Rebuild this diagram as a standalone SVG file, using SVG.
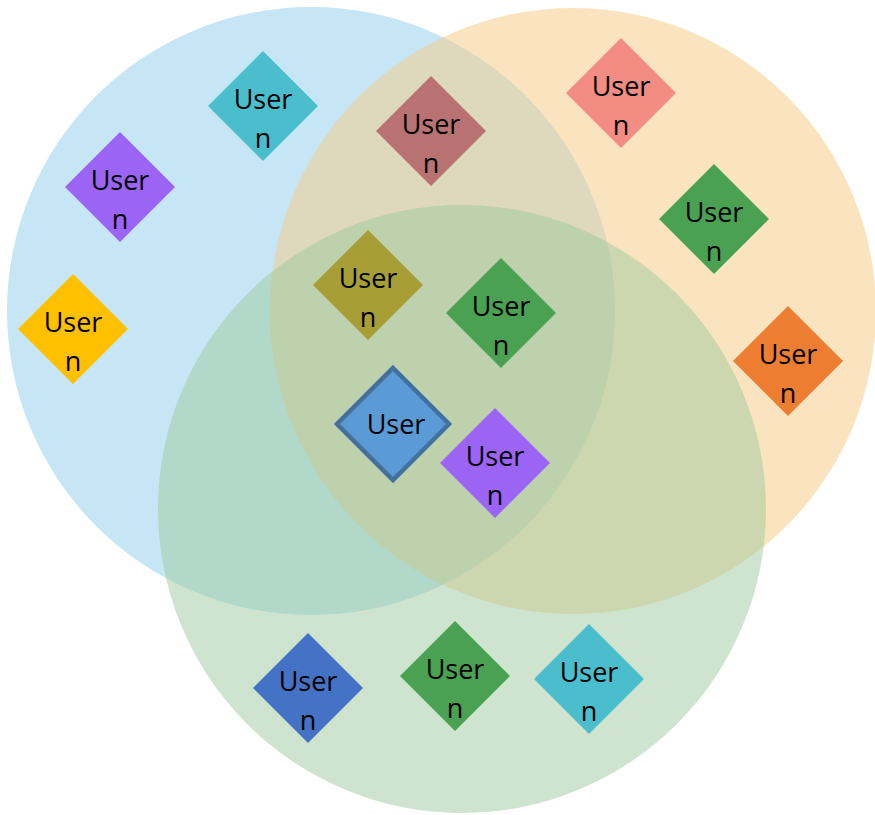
<svg xmlns="http://www.w3.org/2000/svg" width="875" height="815" viewBox="0 0 875 815">
<style>
.t{font-family:"Open Sans","Liberation Sans",sans-serif;font-size:27px;fill:#000;text-anchor:middle}
.c{fill-opacity:0.5}
</style>
<rect width="875" height="815" fill="#fff"/>
<g id="circles">
<circle id="set-blue" class="c" cx="311" cy="311" r="304" fill="#8DCDED"/>
<circle id="set-orange" class="c" cx="573" cy="311" r="303" fill="#F5C981"/>
<circle id="set-green" class="c" cx="462" cy="509" r="304" fill="#9DC99D"/>
</g>
<g id="connectors"></g>
<g id="n1"><path d="M263,51l55,55-55,55-55-55z" fill="#4BBECE"/><text class="t" x="263" y="109">User</text><text class="t" x="263" y="148">n</text></g>
<g id="n2"><path d="M120,132l55,55-55,55-55-55z" fill="#9B64F4"/><text class="t" x="120" y="190">User</text><text class="t" x="120" y="229">n</text></g>
<g id="n3"><path d="M73,274l55,55-55,55-55-55z" fill="#FFC000"/><text class="t" x="73" y="332">User</text><text class="t" x="73" y="371">n</text></g>
<g id="n4"><path d="M431,76l55,55-55,55-55-55z" fill="#B87272"/><text class="t" x="431" y="134">User</text><text class="t" x="431" y="173">n</text></g>
<g id="n5"><path d="M621,38l55,55-55,55-55-55z" fill="#F38C82"/><text class="t" x="621" y="96">User</text><text class="t" x="621" y="135">n</text></g>
<g id="n6"><path d="M714,164l55,55-55,55-55-55z" fill="#4AA152"/><text class="t" x="714" y="222">User</text><text class="t" x="714" y="261">n</text></g>
<g id="n7"><path d="M368,230l55,55-55,55-55-55z" fill="#A89E38"/><text class="t" x="368" y="288">User</text><text class="t" x="368" y="327">n</text></g>
<g id="n8"><path d="M501,258l55,55-55,55-55-55z" fill="#4AA152"/><text class="t" x="501" y="316">User</text><text class="t" x="501" y="355">n</text></g>
<g id="n9"><path d="M788,306l55,55-55,55-55-55z" fill="#ED7D31"/><text class="t" x="788" y="364">User</text><text class="t" x="788" y="403">n</text></g>
<g id="n10"><path d="M393,368l56,56-56,56-56-56z" fill="#5B9BD5" stroke="#41719C" stroke-width="4.5"/><text class="t" x="396" y="434">User</text></g>
<g id="n11"><path d="M495,408l55,55-55,55-55-55z" fill="#9B64F4"/><text class="t" x="495" y="466">User</text><text class="t" x="495" y="505">n</text></g>
<g id="n12"><path d="M308,633l55,55-55,55-55-55z" fill="#4472C4"/><text class="t" x="308" y="691">User</text><text class="t" x="308" y="730">n</text></g>
<g id="n13"><path d="M455,621l55,55-55,55-55-55z" fill="#4AA152"/><text class="t" x="455" y="679">User</text><text class="t" x="455" y="718">n</text></g>
<g id="n14"><path d="M589,624l55,55-55,55-55-55z" fill="#4BBECE"/><text class="t" x="589" y="682">User</text><text class="t" x="589" y="721">n</text></g>
</svg>
